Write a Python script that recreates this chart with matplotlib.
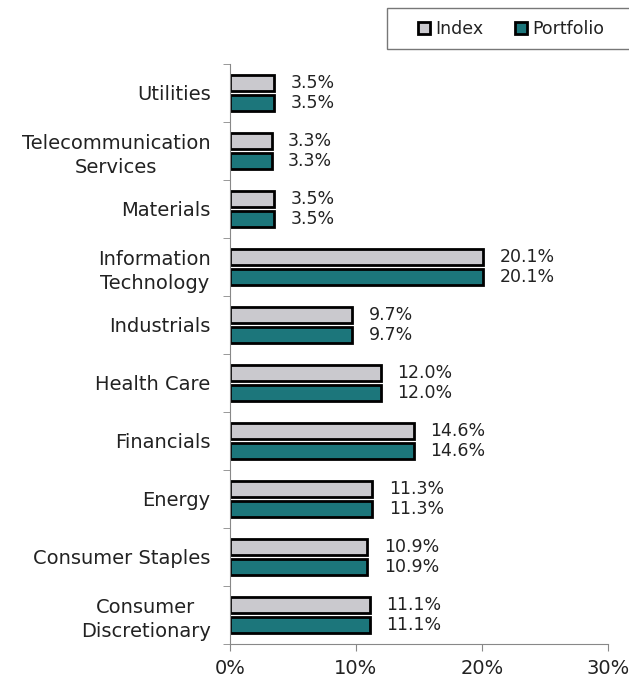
import matplotlib
matplotlib.use("Agg")
import matplotlib.pyplot as plt
import numpy as np
from matplotlib.patches import Patch, Rectangle

plt.rcParams['font.family'] = ['DejaVu Sans']

categories = ["Utilities", "Telecommunication\nServices", "Materials",
              "Information\nTechnology", "Industrials", "Health Care",
              "Financials", "Energy", "Consumer Staples",
              "Consumer\nDiscretionary"]
index_vals = [3.5, 3.3, 3.5, 20.1, 9.7, 12.0, 14.6, 11.3, 10.9, 11.1]
portfolio_vals = [3.5, 3.3, 3.5, 20.1, 9.7, 12.0, 14.6, 11.3, 10.9, 11.1]
xticks = [0, 10, 20, 30]

W, H = 629, 680
fig = plt.figure(figsize=(W / 100, H / 100), dpi=100)
ax = fig.add_axes([230 / W, 1 - 644 / H, 378 / W, 580 / H])

n = len(categories)
y = np.arange(n)
h = 0.28
off = 0.17
idx_color = "#cac9ce"
port_color = "#1c767b"
txt_color = "#222222"
ax.barh(y - off, index_vals, height=h, color=idx_color, edgecolor="black", linewidth=2)
ax.barh(y + off, portfolio_vals, height=h, color=port_color, edgecolor="black", linewidth=2)

for i in range(n):
    ax.text(index_vals[i] + 1.3, y[i] - off, f"{index_vals[i]:.1f}%", va="center", ha="left",
            fontsize=12.5, color=txt_color)
    ax.text(portfolio_vals[i] + 1.3, y[i] + off, f"{portfolio_vals[i]:.1f}%", va="center", ha="left",
            fontsize=12.5, color=txt_color)

ax.set_ylim(n - 0.5, -0.5)
ax.set_xlim(0, 30)
ax.set_xticks(xticks)
ax.set_xticklabels([f"{t}%" for t in xticks], fontsize=14, color=txt_color)
ax.set_yticks(y)
ax.set_yticklabels(categories, fontsize=14, ha="right", multialignment="center",
                   color=txt_color, linespacing=1.35)
ax.tick_params(axis='y', length=0, pad=14)
ax.set_yticks(np.arange(-0.5, n, 1.0), minor=True)
ax.tick_params(axis='y', which='minor', length=5, color="#888888")
ax.tick_params(axis='x', length=5, color="#888888", pad=6)
for s in ["top", "right"]:
    ax.spines[s].set_visible(False)
ax.spines["left"].set_color("#888888")
ax.spines["bottom"].set_color("#888888")

# legend frame
fig.patches.append(Rectangle((387 / W, 1 - 49 / H), (640 - 387) / W, 41 / H,
                             transform=fig.transFigure, facecolor="white",
                             edgecolor="#777777", linewidth=1.0))
handles = [Patch(facecolor=idx_color, edgecolor="black", linewidth=2, label="Index"),
           Patch(facecolor=port_color, edgecolor="black", linewidth=2, label="Portfolio")]
leg = fig.legend(handles=handles, loc="center left", bbox_to_anchor=(418 / W, 1 - 29 / H), ncol=2,
                 fontsize=12.5, frameon=False,
                 handlelength=0.7, handleheight=0.7, handletextpad=0.3, columnspacing=1.8,
                 borderpad=0, borderaxespad=0)
for t in leg.get_texts():
    t.set_color(txt_color)

fig.savefig("out.png", dpi=100, facecolor="white")
